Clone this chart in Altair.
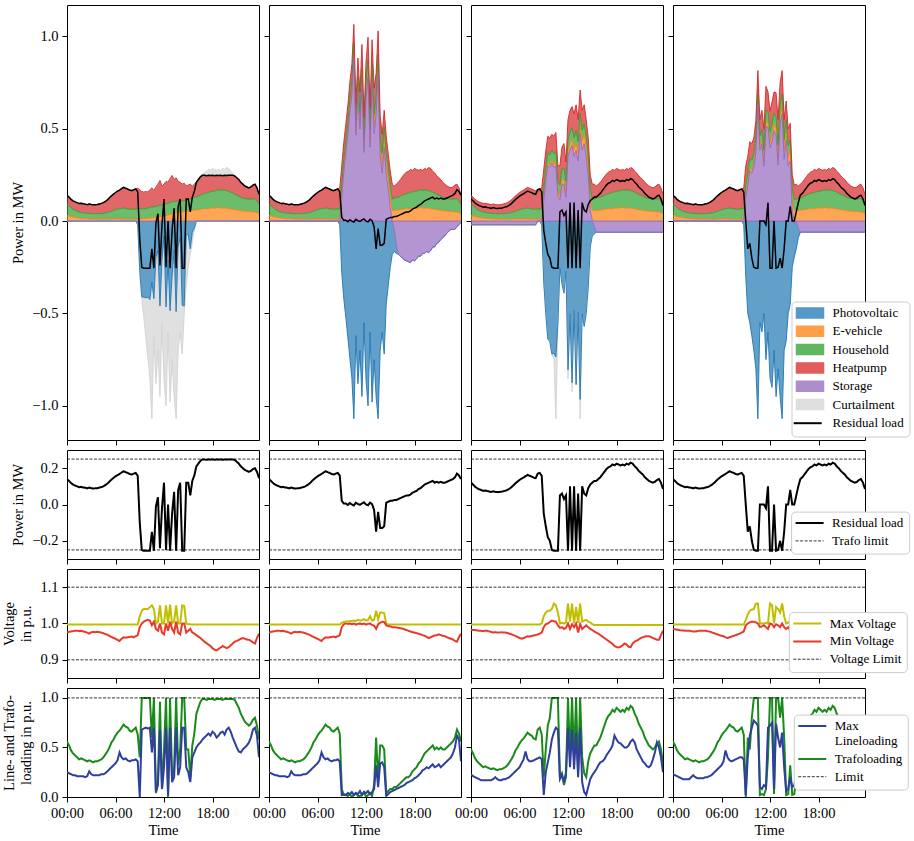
import altair as alt
import numpy as np
import pandas as pd

FONT = "Liberation Serif"

# ---------------- data (15-minute resolution, one day) ----------------
HOURS = [i * 0.25 for i in range(96)]
TIME_TICKS = [0, 6, 12, 18]
TIME_LABELS = ["00:00", "06:00", "12:00", "18:00"]

COMPONENTS = ["Photovoltaic", "E-vehicle", "Household", "Heatpump", "Storage", "Curtailment"]
COMPONENT_COLORS = ["#1f77b4", "#ff7f0e", "#2ca02c", "#d62728", "#9467bd", "#d3d3d3"]
RESIDUAL_NAME = "Residual load"

E_VEHICLE = [0.030,0.028,0.025,0.022,0.020,0.018,0.016,0.015,
 0.014,0.013,0.013,0.012,0.012,0.011,0.011,0.011,
 0.010,0.010,0.010,0.010,0.010,0.011,0.011,0.012,
 0.012,0.012,0.012,0.011,0.011,0.011,0.010,0.010,
 0.010,0.010,0.010,0.010,0.012,0.012,0.013,0.014,
 0.015,0.016,0.018,0.018,0.020,0.022,0.024,0.026,
 0.028,0.030,0.033,0.036,0.040,0.043,0.046,0.048,
 0.050,0.050,0.052,0.054,0.055,0.056,0.058,0.060,
 0.060,0.062,0.064,0.066,0.068,0.066,0.068,0.070,
 0.072,0.070,0.072,0.074,0.072,0.070,0.072,0.070,
 0.068,0.066,0.064,0.062,0.060,0.058,0.056,0.055,
 0.054,0.054,0.052,0.052,0.050,0.050,0.046,0.040]

HOUSEHOLD = [0.060,0.055,0.048,0.042,0.038,0.035,0.033,0.032,
 0.031,0.030,0.030,0.029,0.029,0.028,0.029,0.030,
 0.030,0.031,0.032,0.034,0.036,0.039,0.042,0.046,
 0.050,0.053,0.056,0.058,0.060,0.058,0.056,0.055,
 0.054,0.055,0.056,0.057,0.056,0.055,0.054,0.055,
 0.056,0.058,0.060,0.058,0.060,0.062,0.064,0.060,
 0.062,0.064,0.063,0.065,0.066,0.064,0.062,0.060,
 0.058,0.058,0.060,0.060,0.062,0.064,0.066,0.068,
 0.070,0.073,0.076,0.079,0.082,0.085,0.088,0.088,
 0.090,0.092,0.094,0.095,0.096,0.098,0.096,0.095,
 0.094,0.090,0.087,0.083,0.080,0.077,0.073,0.070,
 0.068,0.066,0.066,0.068,0.070,0.072,0.064,0.052]

HEATPUMP = [0.050,0.047,0.045,0.046,0.046,0.047,0.046,0.050,
 0.049,0.049,0.046,0.052,0.049,0.049,0.049,0.049,
 0.053,0.055,0.058,0.063,0.069,0.076,0.084,0.088,
 0.093,0.097,0.100,0.107,0.112,0.109,0.108,0.103,
 0.101,0.105,0.108,0.111,0.102,0.093,0.090,0.091,
 0.086,0.096,0.102,0.089,0.104,0.116,0.132,0.104,
 0.110,0.121,0.114,0.129,0.141,0.118,0.127,0.107,
 0.102,0.092,0.093,0.076,0.078,0.080,0.066,0.072,
 0.080,0.090,0.100,0.110,0.115,0.119,0.124,0.117,
 0.123,0.118,0.109,0.111,0.107,0.117,0.112,0.125,
 0.123,0.114,0.109,0.100,0.095,0.090,0.081,0.075,
 0.068,0.065,0.062,0.065,0.075,0.078,0.070,0.053]

# ---- scenario 1 (curtailment only) ----
PV_1 = [0.0] * 35 + [-0.020,-0.270,-0.410,-0.412,-0.415,-0.412,-0.425,-0.330,-0.420,-0.194,
 -0.160,-0.460,-0.210,-0.080,-0.465,-0.210,-0.485,-0.297,-0.155,-0.490,
 -0.135,-0.090,-0.455,-0.460,-0.070,-0.075,-0.150,-0.060,-0.040] + [0.0] * 32
STORAGE_1 = [0.0] * 96
CURT_1 = [0.0] * 36 + [-0.010,-0.010,-0.108,-0.215,-0.328,-0.425,-0.740,-0.200,-0.686,-0.540,
 -0.490,-0.340,-0.780,-0.535,-0.390,-0.495,-0.453,-0.795,-0.580,-0.565,
 -0.510,-0.265,-0.040,-0.280,-0.175,-0.030,-0.060,-0.010] + [0.0, 0.0, 0.0] + \
 [0.007,0.017,0.024,0.032,0.028,0.037,0.034,0.027,0.033,0.027,0.039,0.032,0.043,0.037,0.022,0.012] + [0.0] * 13
RESIDUAL_1 = [0.140,0.130,0.118,0.110,0.104,0.100,0.095,0.097,
 0.094,0.092,0.089,0.093,0.090,0.088,0.089,0.090,
 0.093,0.096,0.100,0.107,0.115,0.126,0.137,0.146,
 0.155,0.162,0.168,0.176,0.183,0.178,0.174,0.168,
 0.165,0.170,0.174,0.158,-0.100,-0.250,-0.255,-0.255,
 -0.255,-0.255,-0.150,-0.255,-0.010,0.040,-0.240,-0.020,
 0.120,-0.250,0.000,-0.255,-0.050,0.070,-0.255,0.080,
 0.120,-0.255,-0.255,0.120,0.120,0.050,0.130,0.160,
 0.210,0.225,0.240,0.248,0.248,0.246,0.248,0.247,
 0.248,0.246,0.248,0.247,0.248,0.246,0.248,0.247,
 0.248,0.248,0.248,0.245,0.235,0.225,0.210,0.200,
 0.190,0.185,0.180,0.185,0.195,0.200,0.180,0.145]
TRAFO_1 = [0.56,0.52,0.47,0.44,0.42,0.40,0.38,0.39,
 0.38,0.37,0.36,0.37,0.36,0.35,0.36,0.36,
 0.37,0.38,0.40,0.43,0.46,0.50,0.55,0.58,
 0.62,0.65,0.67,0.70,0.73,0.71,0.70,0.67,
 0.66,0.68,0.70,0.63,0.40,1.00,1.00,1.00,
 1.00,1.00,0.60,1.00,0.04,0.16,0.96,0.08,
 0.48,1.00,0.00,1.00,0.20,0.28,1.00,0.32,
 0.48,1.00,1.00,0.48,0.48,0.20,0.52,0.64,
 0.84,0.90,0.96,0.99,0.99,0.98,0.99,0.99,
 0.99,0.98,0.99,0.99,0.99,0.98,0.99,0.99,
 0.99,0.99,0.99,0.98,0.94,0.90,0.84,0.80,
 0.76,0.74,0.72,0.74,0.78,0.80,0.72,0.58]
LINE_1 = [0.25,0.24,0.23,0.22,0.22,0.21,0.21,0.21,
 0.21,0.20,0.21,0.26,0.23,0.22,0.22,0.22,
 0.22,0.23,0.23,0.24,0.26,0.28,0.30,0.32,
 0.34,0.37,0.45,0.40,0.38,0.39,0.37,0.36,
 0.37,0.37,0.38,0.36,0.00,0.68,0.69,0.70,
 0.69,0.70,0.45,0.70,0.05,0.12,0.68,0.08,
 0.30,0.70,0.02,0.70,0.15,0.20,0.70,0.22,
 0.30,0.70,0.70,0.30,0.25,0.15,0.40,0.45,
 0.50,0.53,0.55,0.58,0.60,0.62,0.64,0.62,
 0.66,0.64,0.60,0.62,0.65,0.66,0.63,0.68,
 0.70,0.66,0.60,0.55,0.50,0.46,0.45,0.48,
 0.50,0.52,0.55,0.60,0.68,0.70,0.62,0.40]
MAXV_1 = [0.997] * 36 + [1.020,1.035,1.040,1.040,1.040,1.045,1.050,1.040,1.000,1.005,
 1.050,1.000,1.000,1.050,1.000,1.052,1.000,1.005,1.050,1.000,
 1.000,1.050,1.048,1.000,0.998,0.998] + [0.997] * 34
MINV_1 = [0.975,0.977,0.978,0.979,0.980,0.980,0.979,0.980,
 0.978,0.977,0.975,0.972,0.976,0.977,0.976,0.977,
 0.976,0.975,0.973,0.971,0.969,0.966,0.963,0.960,
 0.958,0.955,0.952,0.958,0.962,0.961,0.962,0.963,
 0.964,0.962,0.965,0.968,0.990,1.000,1.005,1.008,
 1.010,1.008,0.995,1.005,0.985,0.980,1.000,0.975,
 0.970,1.000,0.980,1.005,0.985,0.975,1.005,0.975,
 0.970,1.000,1.000,0.975,0.980,0.985,0.975,0.972,
 0.968,0.964,0.960,0.955,0.950,0.946,0.942,0.938,
 0.932,0.928,0.926,0.930,0.934,0.938,0.935,0.932,
 0.935,0.940,0.945,0.950,0.952,0.955,0.958,0.960,
 0.958,0.956,0.955,0.952,0.948,0.945,0.960,0.972]

# ---- scenario 2 (storage, no curtailment) ----
PV_2 = [0.0] * 35 + [-0.02,-0.28,-0.42,-0.52,-0.63,-0.74,-0.85,-1.07,-0.62,-0.88,
 -0.70,-0.95,-0.55,-0.86,-1.00,-0.60,-0.98,-0.75,-0.95,-1.07,
 -0.70,-0.60,-0.72,-0.45,-0.35,-0.25,-0.18,-0.12,-0.05] + [0.0] * 32
STORAGE_2 = [0.0] * 36 + [0.130,0.265,0.368,0.467,0.591,0.680,0.885,0.465,0.699,0.498,
 0.736,0.372,0.660,0.781,0.400,0.752,0.473,0.575,0.795,0.355,
 0.260,0.400,0.255,0.175,0.075,0.000,-0.045,-0.125,
 -0.180,-0.190,-0.200,-0.210,-0.215,-0.220,-0.225,-0.210,
 -0.215,-0.205,-0.190,-0.190,-0.175,-0.175,-0.165,-0.170,
 -0.160,-0.140,-0.140,-0.120,-0.115,-0.100,-0.090,-0.080,
 -0.065,-0.055,-0.045,-0.045,-0.045,-0.030,-0.020,-0.005]
CURT_2 = [0.0] * 96
RESIDUAL_2 = [0.140,0.130,0.118,0.110,0.104,0.100,0.095,0.097,
 0.094,0.092,0.089,0.093,0.090,0.088,0.089,0.090,
 0.093,0.096,0.100,0.107,0.115,0.126,0.137,0.146,
 0.155,0.162,0.168,0.176,0.183,0.178,0.174,0.168,
 0.165,0.170,0.174,0.160,0.020,0.005,0.005,-0.003,
 0.008,0.000,-0.005,0.010,0.003,-0.002,0.006,0.012,
 0.000,-0.004,0.010,0.002,-0.030,-0.150,-0.040,-0.130,
 -0.130,-0.120,0.010,0.015,0.020,0.020,0.025,0.025,
 0.030,0.035,0.040,0.045,0.050,0.050,0.055,0.065,
 0.070,0.075,0.085,0.090,0.100,0.110,0.115,0.120,
 0.125,0.130,0.120,0.125,0.120,0.125,0.120,0.120,
 0.125,0.130,0.135,0.140,0.150,0.170,0.160,0.140]
TRAFO_2 = [0.56,0.52,0.47,0.44,0.42,0.40,0.38,0.39,
 0.38,0.37,0.36,0.37,0.36,0.35,0.36,0.36,
 0.37,0.38,0.40,0.43,0.46,0.50,0.55,0.58,
 0.62,0.65,0.67,0.70,0.73,0.71,0.70,0.67,
 0.66,0.68,0.70,0.64,0.08,0.02,0.02,0.01,
 0.03,0.00,0.02,0.04,0.01,0.01,0.02,0.05,
 0.00,0.02,0.04,0.01,0.12,0.60,0.16,0.52,
 0.52,0.48,0.04,0.06,0.08,0.08,0.10,0.10,
 0.12,0.14,0.16,0.18,0.20,0.20,0.22,0.26,
 0.28,0.30,0.34,0.36,0.40,0.44,0.46,0.48,
 0.50,0.52,0.48,0.50,0.48,0.50,0.48,0.48,
 0.50,0.52,0.54,0.56,0.60,0.68,0.64,0.56]
LINE_2 = [0.25,0.24,0.23,0.22,0.22,0.21,0.21,0.21,
 0.21,0.20,0.21,0.26,0.23,0.22,0.22,0.22,
 0.22,0.23,0.23,0.24,0.26,0.28,0.30,0.32,
 0.34,0.37,0.45,0.40,0.38,0.39,0.37,0.36,
 0.37,0.37,0.38,0.36,0.02,0.03,0.02,0.04,
 0.03,0.05,0.02,0.04,0.03,0.06,0.02,0.05,
 0.04,0.06,0.03,0.05,0.08,0.32,0.10,0.34,
 0.35,0.30,0.01,0.03,0.05,0.06,0.07,0.08,
 0.09,0.10,0.11,0.12,0.14,0.15,0.16,0.17,
 0.19,0.20,0.22,0.24,0.27,0.28,0.30,0.29,
 0.31,0.33,0.30,0.31,0.33,0.30,0.32,0.34,
 0.36,0.38,0.40,0.44,0.50,0.62,0.58,0.36]
MAXV_2 = [0.997] * 36 + [1.002,1.004,1.005,1.006,1.006,1.007,1.008,1.007,1.010,1.008,
 1.009,1.012,1.008,1.010,1.020,1.008,1.010,1.035,1.012,1.030,
 1.030,1.028,1.000] + [0.997] * 37
MINV_2 = [0.975,0.977,0.978,0.979,0.980,0.980,0.979,0.980,
 0.978,0.977,0.975,0.972,0.976,0.977,0.976,0.977,
 0.976,0.975,0.973,0.971,0.969,0.966,0.963,0.960,
 0.958,0.955,0.952,0.958,0.962,0.961,0.962,0.963,
 0.964,0.962,0.965,0.968,0.990,0.998,1.000,0.999,
 1.000,0.998,1.000,0.997,0.999,1.000,0.998,1.000,
 0.997,0.999,1.000,0.996,0.994,0.985,0.998,1.002,
 1.005,1.004,0.995,0.993,0.992,0.990,0.990,0.989,
 0.988,0.987,0.986,0.984,0.982,0.980,0.978,0.976,
 0.975,0.973,0.972,0.970,0.968,0.966,0.963,0.960,
 0.962,0.965,0.967,0.968,0.970,0.968,0.966,0.965,
 0.962,0.960,0.958,0.956,0.952,0.950,0.962,0.972]

# ---- scenario 3 (storage + curtailment) ----
PV_3 = [0.0] * 35 + [-0.020,-0.330,-0.500,-0.640,-0.650,-0.720,-0.715,-0.735,-0.555,-0.250,
 -0.340,-0.390,-0.270,-0.805,-0.500,-0.875,-0.480,-0.885,-0.490,-0.965,
 -0.500,-0.570,-0.500,-0.360,-0.140,-0.080,-0.040,0.000,0.000] + [0.0] * 32
STORAGE_3 = [-0.02] * 33 + [0.0, 0.0, 0.0] + [0.110,0.220,0.303,0.290,0.313,0.290,0.300,0.135,0.116,0.200,
 0.200,0.130,0.350,0.385,0.410,0.350,0.383,0.325,0.475,0.385,
 0.420,0.350,0.245,0.060,0.005,-0.030] + [-0.06] * 34
CURT_3 = [0.0] * 41 + [-0.030,-0.335] + [0.0] * 5 + [-0.050, 0.0, -0.050] + [0.0] * 3 + [-0.105] + [0.0] * 41
RESIDUAL_3 = [0.120,0.110,0.098,0.090,0.084,0.080,0.075,0.077,
 0.074,0.072,0.069,0.073,0.070,0.068,0.069,0.070,
 0.073,0.076,0.080,0.087,0.095,0.106,0.117,0.126,
 0.135,0.142,0.148,0.156,0.163,0.158,0.154,0.148,
 0.145,0.170,0.174,0.158,-0.050,-0.120,-0.180,-0.200,
 -0.250,-0.255,-0.255,-0.255,0.050,0.060,0.030,0.050,
 -0.255,0.100,-0.255,0.100,-0.255,0.060,-0.255,0.100,
 0.060,0.050,0.090,0.110,0.120,0.130,0.130,0.140,
 0.150,0.165,0.180,0.195,0.205,0.210,0.220,0.215,
 0.225,0.220,0.215,0.220,0.215,0.225,0.220,0.230,
 0.225,0.210,0.200,0.185,0.175,0.165,0.150,0.140,
 0.130,0.125,0.120,0.125,0.135,0.140,0.120,0.085]
TRAFO_3 = [0.48,0.44,0.39,0.36,0.34,0.32,0.30,0.31,
 0.30,0.29,0.28,0.29,0.28,0.27,0.28,0.28,
 0.29,0.30,0.32,0.35,0.38,0.42,0.47,0.50,
 0.54,0.57,0.59,0.62,0.65,0.63,0.62,0.59,
 0.58,0.68,0.70,0.63,0.20,0.48,0.72,0.80,
 1.00,1.00,1.00,1.00,0.20,0.24,0.12,0.20,
 1.00,0.40,1.00,0.40,1.00,0.24,1.00,0.40,
 0.24,0.20,0.36,0.44,0.48,0.52,0.52,0.56,
 0.60,0.66,0.72,0.78,0.82,0.84,0.88,0.86,
 0.90,0.88,0.86,0.88,0.86,0.90,0.88,0.92,
 0.90,0.84,0.80,0.74,0.70,0.66,0.60,0.56,
 0.52,0.50,0.48,0.50,0.54,0.56,0.48,0.34]
LINE_3 = [0.23,0.21,0.20,0.19,0.18,0.17,0.17,0.17,
 0.17,0.17,0.17,0.18,0.20,0.18,0.17,0.17,
 0.18,0.18,0.19,0.20,0.22,0.24,0.26,0.28,
 0.30,0.34,0.38,0.46,0.38,0.36,0.36,0.37,
 0.38,0.39,0.40,0.38,0.02,0.25,0.35,0.45,
 0.58,0.65,0.70,0.68,0.18,0.22,0.15,0.25,
 0.70,0.30,0.68,0.28,0.65,0.20,0.70,0.15,
 0.05,0.02,0.10,0.18,0.22,0.25,0.28,0.32,
 0.35,0.36,0.38,0.42,0.45,0.48,0.52,0.62,
 0.58,0.55,0.54,0.52,0.50,0.50,0.52,0.56,
 0.58,0.55,0.48,0.44,0.40,0.36,0.34,0.31,
 0.30,0.32,0.38,0.45,0.55,0.50,0.40,0.25]
MAXV_3 = [0.997] * 35 + [1.000,1.020,1.030,1.035,1.035,1.040,1.055,1.050,1.030,1.000,
 1.002,1.000,1.003,1.055,1.005,1.055,1.000,1.045,1.002,1.055,
 1.005,1.008,1.010,1.005,1.003,0.998] + [0.996] * 35
MINV_3 = [0.983,0.982,0.982,0.981,0.980,0.980,0.979,0.980,
 0.980,0.978,0.977,0.975,0.976,0.975,0.975,0.976,
 0.975,0.975,0.974,0.972,0.970,0.968,0.966,0.963,
 0.960,0.958,0.960,0.962,0.965,0.964,0.966,0.967,
 0.968,0.970,0.972,0.975,0.990,0.998,1.000,1.004,
 1.008,1.006,1.005,0.995,0.988,0.990,0.985,0.988,
 1.000,0.985,0.998,0.990,1.000,0.975,0.998,0.985,
 0.990,0.995,0.990,0.985,0.982,0.978,0.975,0.972,
 0.968,0.964,0.960,0.956,0.952,0.948,0.944,0.938,
 0.935,0.934,0.936,0.940,0.945,0.942,0.936,0.935,
 0.945,0.950,0.953,0.956,0.960,0.962,0.964,0.965,
 0.965,0.963,0.960,0.958,0.955,0.955,0.968,0.980]

# ---- scenario 4 (storage, no curtailment) ----
PV_4 = [0.0] * 35 + [-0.02,-0.30,-0.50,-0.55,-0.62,-0.70,-0.80,-1.07,-0.55,-0.60,
 -0.50,-0.75,-0.60,-0.85,-0.90,-0.70,-0.95,-0.80,-0.95,-1.07,
 -0.70,-0.65,-0.50,-0.45,-0.25,-0.18,-0.15,-0.05,0.00] + [0.0] * 32
STORAGE_4 = [0.0] * 36 + [0.130,0.190,0.273,0.260,0.293,0.375,0.635,0.385,0.416,0.300,
 0.510,0.510,0.395,0.430,0.490,0.465,0.303,0.525,0.580,0.335,
 0.440,0.300,0.325,0.060,-0.015,0.000,-0.040] + [-0.06] * 33
CURT_4 = [0.0] * 96
RESIDUAL_4 = [0.140,0.130,0.118,0.110,0.104,0.100,0.095,0.097,
 0.094,0.092,0.089,0.093,0.090,0.088,0.089,0.090,
 0.093,0.096,0.100,0.107,0.115,0.126,0.137,0.146,
 0.155,0.162,0.168,0.176,0.183,0.178,0.174,0.168,
 0.165,0.170,0.174,0.158,0.000,-0.150,-0.120,-0.200,
 -0.250,-0.255,-0.255,0.000,0.000,0.000,-0.020,0.100,
 -0.255,-0.255,0.000,-0.255,-0.250,-0.200,-0.255,-0.150,
 0.000,0.000,0.080,0.000,0.000,0.050,0.100,0.140,
 0.150,0.165,0.180,0.195,0.205,0.210,0.220,0.215,
 0.225,0.220,0.215,0.220,0.215,0.225,0.220,0.230,
 0.225,0.210,0.200,0.185,0.175,0.165,0.150,0.140,
 0.130,0.125,0.120,0.125,0.135,0.140,0.120,0.085]
TRAFO_4 = [0.56,0.52,0.47,0.44,0.42,0.40,0.38,0.39,
 0.38,0.37,0.36,0.37,0.36,0.35,0.36,0.36,
 0.37,0.38,0.40,0.43,0.46,0.50,0.55,0.58,
 0.62,0.65,0.67,0.70,0.73,0.71,0.70,0.67,
 0.66,0.68,0.70,0.63,0.00,0.60,0.48,0.80,
 1.00,1.00,1.00,0.02,0.03,0.02,0.08,0.40,
 1.00,1.00,0.03,1.00,1.00,0.80,1.00,0.60,
 0.02,0.03,0.32,0.02,0.03,0.20,0.40,0.56,
 0.60,0.66,0.72,0.78,0.82,0.84,0.88,0.86,
 0.90,0.88,0.86,0.88,0.86,0.90,0.88,0.92,
 0.90,0.84,0.80,0.74,0.70,0.66,0.60,0.56,
 0.52,0.50,0.48,0.50,0.54,0.56,0.48,0.34]
LINE_4 = [0.23,0.22,0.21,0.20,0.19,0.18,0.18,0.18,
 0.18,0.20,0.22,0.20,0.19,0.19,0.19,0.19,
 0.20,0.20,0.21,0.22,0.24,0.26,0.28,0.30,
 0.32,0.36,0.47,0.40,0.37,0.36,0.37,0.38,
 0.39,0.40,0.40,0.38,0.02,0.40,0.62,0.70,
 0.77,0.75,0.72,0.10,0.08,0.12,0.10,0.70,
 0.72,0.75,0.08,0.74,0.60,0.50,0.65,0.30,
 0.06,0.08,0.20,0.10,0.12,0.20,0.28,0.32,
 0.35,0.36,0.38,0.42,0.45,0.48,0.52,0.62,
 0.58,0.55,0.54,0.52,0.50,0.50,0.52,0.56,
 0.58,0.55,0.48,0.44,0.40,0.36,0.34,0.31,
 0.30,0.32,0.38,0.45,0.55,0.50,0.40,0.25]
MAXV_4 = [0.997] * 36 + [1.010,1.025,1.035,1.038,1.040,1.055,1.055,1.000,1.000,1.000,
 1.002,1.000,1.055,1.050,1.000,1.045,1.040,1.030,1.055,1.020,
 1.000,1.003,1.000,1.000,0.998] + [0.996] * 35
MINV_4 = [0.985,0.984,0.983,0.982,0.981,0.981,0.980,0.980,
 0.980,0.979,0.978,0.978,0.979,0.980,0.980,0.980,
 0.980,0.979,0.978,0.976,0.974,0.972,0.970,0.968,
 0.966,0.965,0.962,0.960,0.962,0.964,0.966,0.968,
 0.970,0.972,0.975,0.978,0.995,1.000,1.003,1.005,
 1.005,1.003,1.000,0.990,0.992,0.995,0.990,0.985,
 1.000,0.998,0.990,0.998,0.995,0.990,1.000,0.990,
 0.985,0.990,0.980,0.985,0.982,0.978,0.975,0.972,
 0.968,0.964,0.960,0.956,0.952,0.948,0.944,0.938,
 0.935,0.934,0.936,0.940,0.945,0.942,0.936,0.935,
 0.945,0.950,0.953,0.956,0.960,0.962,0.964,0.965,
 0.965,0.963,0.960,0.958,0.955,0.955,0.968,0.980]

TRAFO_LIMITS = [0.25, -0.25]
VOLTAGE_LIMITS = [1.1, 0.9]
LOADING_LIMITS = [1.0]

PANELS = [
    dict(pv=PV_1, storage=STORAGE_1, curt=CURT_1, res=RESIDUAL_1, trafo=TRAFO_1, line=LINE_1, maxv=MAXV_1, minv=MINV_1),
    dict(pv=PV_2, storage=STORAGE_2, curt=CURT_2, res=RESIDUAL_2, trafo=TRAFO_2, line=LINE_2, maxv=MAXV_2, minv=MINV_2),
    dict(pv=PV_3, storage=STORAGE_3, curt=CURT_3, res=RESIDUAL_3, trafo=TRAFO_3, line=LINE_3, maxv=MAXV_3, minv=MINV_3),
    dict(pv=PV_4, storage=STORAGE_4, curt=CURT_4, res=RESIDUAL_4, trafo=TRAFO_4, line=LINE_4, maxv=MAXV_4, minv=MINV_4),
]
for _p in PANELS:
    for _k, _v in _p.items():
        assert len(_v) == 96, (_k, len(_v))
for _a in (E_VEHICLE, HOUSEHOLD, HEATPUMP):
    assert len(_a) == 96

# ---------------- layout / style ----------------
STACK_ORDER = ["Storage", "E-vehicle", "Household", "Heatpump", "Photovoltaic", "Curtailment"]
EDGE_ORDER = ["Curtailment", "Photovoltaic", "E-vehicle", "Household", "Heatpump", "Storage"]
PANEL_W = 192
ROW_H = [435, 109, 109, 109]
Y_DOMAINS = [[-1.185, 1.17], [-0.3, 0.3], [0.85, 1.15], [0.0, 1.1]]
Y_TICKS = [[-1.0, -0.5, 0.0, 0.5, 1.0], [-0.2, 0.0, 0.2], [0.9, 1.0, 1.1], [0.0, 0.5, 1.0]]
Y_TITLES = ["Power in MW", "Power in MW", ["Voltage", "in p.u."], ["Line- and Trafo-", "loading in p.u."]]
XSCALE = alt.Scale(domain=[0, 23.75], nice=False, zero=False)
RECT_SYMBOL = "M-2.7,-1H2.7V1H-2.7Z"
LINE_SYMBOL = "M-2.8,0H2.8"

time_expr = "''"
for _v, _lab in reversed(list(zip(TIME_TICKS, TIME_LABELS))):
    time_expr = f"datum.value == {_v} ? '{_lab}' : {time_expr}"


def x_axis(show):
    if show:
        return alt.Axis(values=TIME_TICKS, labelExpr=time_expr, title="Time", labelFlush=False,
                        labelOverlap=False, titlePadding=4)
    return alt.Axis(values=TIME_TICKS, labels=False, title=None)


def y_axis(row, show):
    if show:
        return alt.Axis(values=Y_TICKS[row], format=".1f", title=Y_TITLES[row], labelOverlap=False)
    return alt.Axis(values=Y_TICKS[row], labels=False, title=None)


def boxed_legend(x, y, row_pad, **kw):
    return alt.Legend(title=None, orient="none", legendX=x, legendY=y, fillColor="white",
                      strokeColor="#cccccc", cornerRadius=4, padding=5, labelFont=FONT,
                      labelFontSize=13, labelColor="black", symbolSize=100, symbolOffset=7,
                      labelOffset=16, rowPadding=row_pad, **kw)


# row 1: component legend (last slot left empty, the residual-load line legend sits on it)
ROW1_DOMAIN = COMPONENTS + [RESIDUAL_NAME]
ROW1_RANGE = COMPONENT_COLORS + ["transparent"]
LEG1_AREAS = boxed_legend(118.5, 296.5, 1.3, symbolType=RECT_SYMBOL, symbolOpacity=0.75)
LEG1_LINE = alt.Legend(title=None, orient="none", legendX=128.2, legendY=411.7, padding=0,
                       labelExpr="''", labelFontSize=13, symbolType=LINE_SYMBOL, symbolSize=100,
                       symbolOffset=0, symbolStrokeWidth=2, zindex=5)


def stacked_frame(p):
    curt = np.asarray(p["curt"], dtype=float)
    comp = {
        "Photovoltaic": np.asarray(p["pv"], dtype=float),
        "E-vehicle": np.asarray(E_VEHICLE, dtype=float),
        "Household": np.asarray(HOUSEHOLD, dtype=float),
        "Heatpump": np.asarray(HEATPUMP, dtype=float) - np.clip(curt, 0, None),
        "Storage": np.asarray(p["storage"], dtype=float),
        "Curtailment": curt,
    }
    pos = np.zeros(96)
    neg = np.zeros(96)
    frames = {n: [] for n in STACK_ORDER}
    for name in STACK_ORDER:
        v = comp[name]
        for part, vals in (("up", np.clip(v, 0, None)), ("down", np.clip(v, None, 0))):
            keep = np.any(vals != 0) or (name == "Storage" and part == "up")
            if not keep:
                continue
            lo = pos.copy() if part == "up" else neg.copy()
            hi = lo + vals
            if part == "up":
                pos = hi.copy()
            else:
                neg = hi.copy()
            frames[name].append(pd.DataFrame({"t": HOURS, "series": name, "part": part, "lo": lo, "hi": hi}))
    out = [f for n in EDGE_ORDER for f in frames[n]]
    return pd.concat(out, ignore_index=True)


def panel_row1(k):
    p = PANELS[k]
    last = k == 3
    df = stacked_frame(p)
    res = pd.DataFrame({"t": HOURS, "series": RESIDUAL_NAME, "value": p["res"]})
    color = alt.Color("series:N", scale=alt.Scale(domain=ROW1_DOMAIN, range=ROW1_RANGE),
                      legend=LEG1_AREAS if last else None)
    stroke = alt.Stroke("series:N", scale=alt.Scale(domain=[RESIDUAL_NAME], range=["black"]),
                        legend=LEG1_LINE if last else None)
    x = alt.X("t:Q", scale=XSCALE, axis=x_axis(False))
    ysc = alt.Scale(domain=Y_DOMAINS[0], nice=False, zero=False)
    yax = y_axis(0, k == 0)
    area = alt.Chart(df).mark_area(fillOpacity=0.7, clip=True).encode(
        x=x, y=alt.Y("hi:Q", scale=ysc, axis=yax, stack=None), y2="lo:Q", color=color, detail="part:N")
    edge = alt.Chart(df).mark_line(strokeWidth=1, strokeOpacity=0.9, clip=True).encode(
        x=x, y=alt.Y("hi:Q", scale=ysc, axis=yax), color=color, detail="part:N")
    line = alt.Chart(res).mark_line(strokeWidth=1.5, clip=True).encode(
        x=x, y=alt.Y("value:Q", scale=ysc, axis=yax), stroke=stroke)
    return alt.layer(area, edge, line).properties(width=PANEL_W, height=ROW_H[0])


def panel_lines(row, k, specs, limit_name, limits, colors, legend):
    # specs: (name, values, legend position); listed in drawing order
    domain = [s[0] for s in sorted(specs, key=lambda s: s[2])] + [limit_name]
    leg = legend if k == 3 else None
    color = alt.Color("series:N", scale=alt.Scale(domain=domain, range=[colors[n] for n in domain]), legend=leg)
    width = alt.StrokeWidth("series:N", scale=alt.Scale(type="ordinal", domain=domain,
                            range=[0.8 if n == limit_name else 2 for n in domain]), legend=leg)
    dash = alt.StrokeDash("series:N", scale=alt.Scale(domain=domain,
                          range=[[3, 1.5] if n == limit_name else [1, 0] for n in domain]), legend=leg)
    x = alt.X("t:Q", scale=XSCALE, axis=x_axis(row == 3))
    ysc = alt.Scale(domain=Y_DOMAINS[row], nice=False, zero=False)
    yax = y_axis(row, k == 0)
    layers = []
    for name, values, _pos in specs:
        df = pd.DataFrame({"t": HOURS, "series": name, "value": values})
        layers.append(alt.Chart(df).mark_line(clip=True).encode(
            x=x, y=alt.Y("value:Q", scale=ysc, axis=yax), color=color, strokeWidth=width, strokeDash=dash))
    lim = pd.DataFrame({"series": limit_name, "value": limits})
    layers.append(alt.Chart(lim).mark_rule().encode(
        y=alt.Y("value:Q", scale=ysc, axis=yax), color=color, strokeWidth=width, strokeDash=dash))
    return alt.layer(*layers).properties(width=PANEL_W, height=ROW_H[row])


def line_legend(x, y, **kw):
    return boxed_legend(x, y, 3.8, symbolType=LINE_SYMBOL, **kw)


LEG2 = line_legend(118.1, 61.6)
LEG3 = line_legend(115.8, 43.1)
LEG4 = line_legend(120.8, 26.6,
                   labelExpr="datum.label === 'Max Lineloading' ? ['Max', 'Lineloading'] : datum.label")

C2 = {RESIDUAL_NAME: "black", "Trafo limit": "black"}
C3 = {"Max Voltage": "#bfbf00", "Min Voltage": "#e8392b", "Voltage Limit": "black"}
C4 = {"Max Lineloading": "#2e3f9e", "Trafoloading": "#1a8a1a", "Limit": "black"}

panels = []
panels += [panel_row1(k) for k in range(4)]
panels += [panel_lines(1, k, [(RESIDUAL_NAME, PANELS[k]["res"], 0)], "Trafo limit", TRAFO_LIMITS, C2, LEG2)
           for k in range(4)]
panels += [panel_lines(2, k, [("Max Voltage", PANELS[k]["maxv"], 0), ("Min Voltage", PANELS[k]["minv"], 1)],
                       "Voltage Limit", VOLTAGE_LIMITS, C3, LEG3) for k in range(4)]
panels += [panel_lines(3, k, [("Trafoloading", PANELS[k]["trafo"], 1), ("Max Lineloading", PANELS[k]["line"], 0)],
                       "Limit", LOADING_LIMITS, C4, LEG4) for k in range(4)]

INDEP = dict(color="independent", stroke="independent", strokeWidth="independent", strokeDash="independent")

chart = alt.concat(*panels, columns=4, spacing=10, bounds="flush", align="each").resolve_scale(
    **INDEP
).properties(
    padding={"left": 1, "top": 4, "right": 0, "bottom": 0}
).configure_view(
    stroke="black", strokeWidth=1
).configure_axis(
    labelFont=FONT, titleFont=FONT, labelFontSize=14.5, titleFontSize=14.5, titleFontWeight="normal",
    labelColor="black", titleColor="black", tickColor="black", tickSize=5, tickWidth=1,
    domain=False, grid=False, labelPadding=4, titlePadding=6, titleLineHeight=17
)

chart.save("out.html", embed_options={"renderer": "svg", "actions": False})
